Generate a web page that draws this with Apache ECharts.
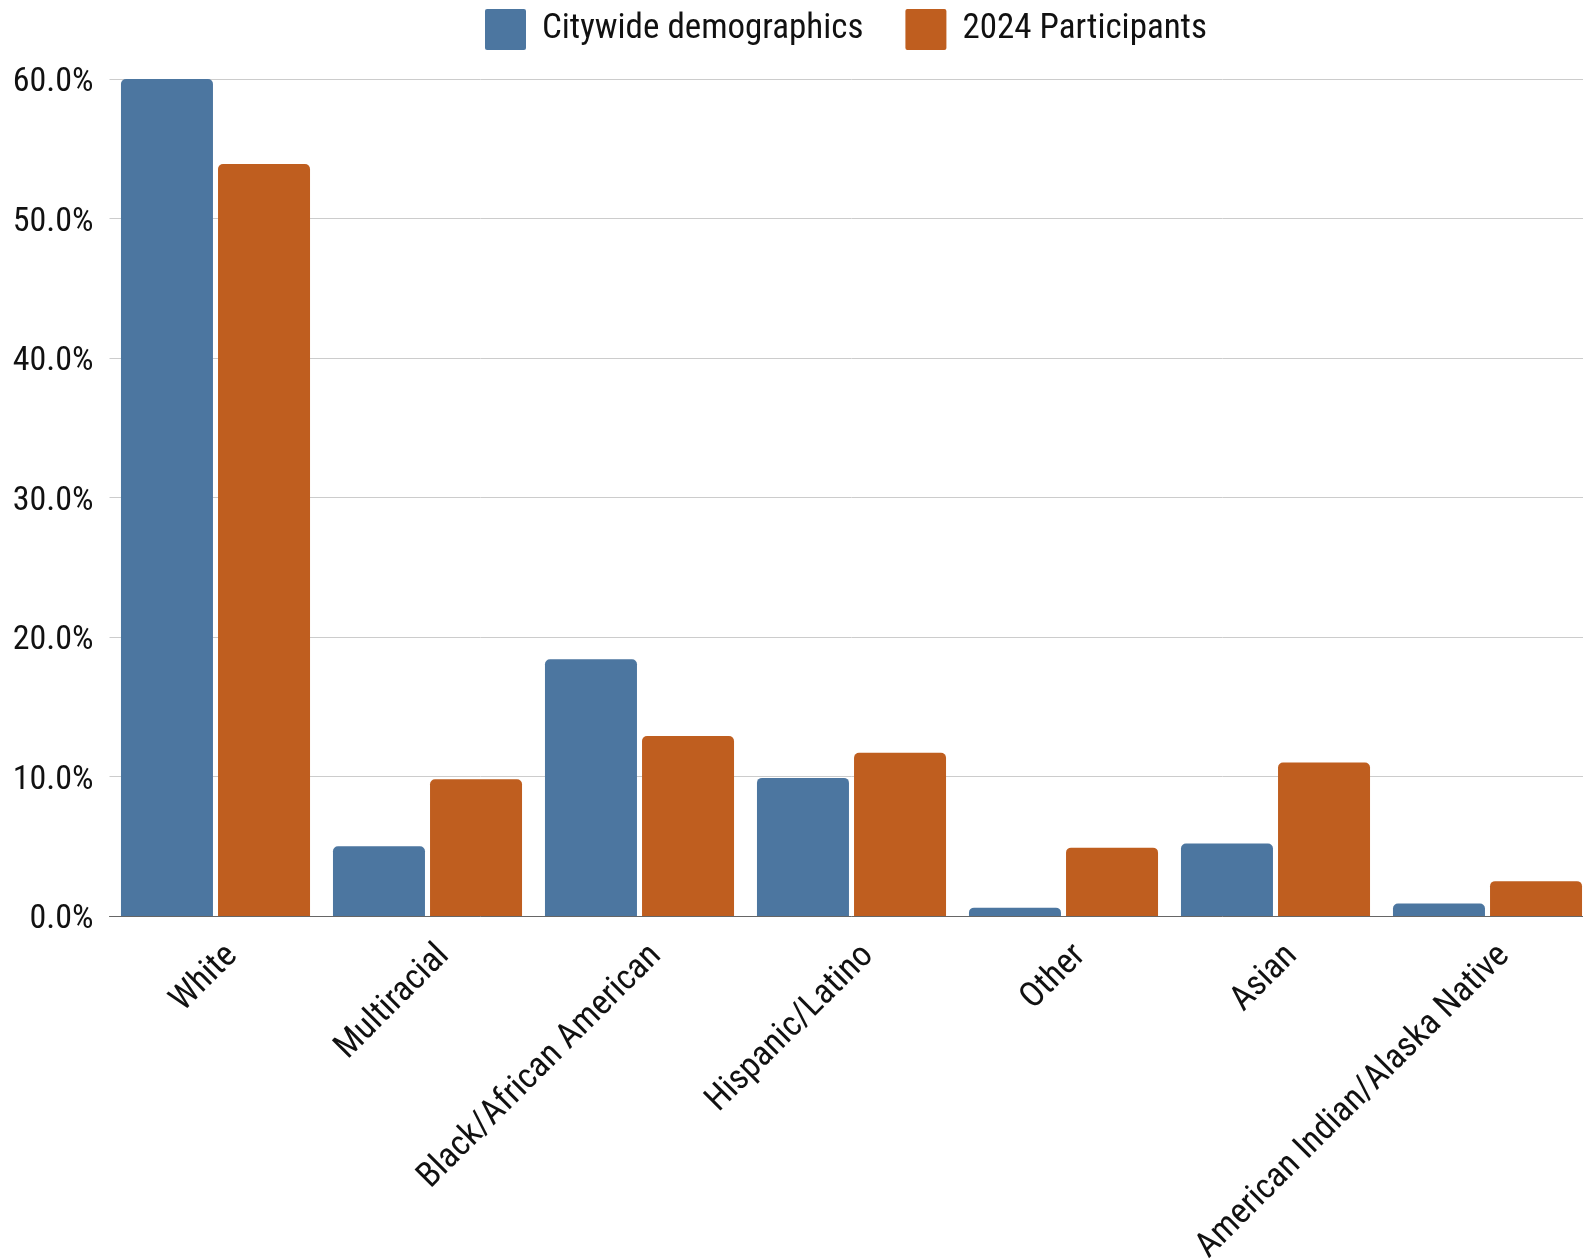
<!DOCTYPE html>
<html>
<head>
<meta charset="utf-8">
<style>
  html, body { margin: 0; padding: 0; background: #fff; overflow: hidden; }
  #chart { width: 1620px; height: 1259px; }
</style>
<script src="https://cdn.jsdelivr.net/npm/echarts@6/dist/echarts.min.js"></script>
</head>
<body>
<div id="chart"></div>
<script>
// Share of population by race/ethnicity (percent)
const categories = [
  'White',
  'Multiracial',
  'Black/African American',
  'Hispanic/Latino',
  'Other',
  'Asian',
  'American Indian/Alaska Native'
];
const citywide = [60.0, 5.0, 18.4, 9.9, 0.6, 5.2, 0.9];
const participants2024 = [53.9, 9.8, 12.9, 11.7, 4.9, 11.0, 2.5];
const seriesNames = ['Citywide demographics', '2024 Participants'];

const FONT = '"Roboto Condensed", "Liberation Sans Narrow", "Arial Narrow", Roboto, sans-serif';

const chart = echarts.init(document.getElementById('chart'), null, { renderer: 'canvas' });

chart.setOption({
  animation: false,
  backgroundColor: '#ffffff',
  color: ['#4c76a0', '#bf5e1f'],
  textStyle: { fontFamily: FONT },
  legend: {
    left: 480,
    top: 4,
    itemWidth: 41,
    itemHeight: 41,
    itemGap: 42,
    icon: 'path://M2,0 L38,0 Q40,0 40,2 L40,38 Q40,40 38,40 L2,40 Q0,40 0,38 L0,2 Q0,0 2,0 Z',
    textStyle: { fontFamily: FONT, fontSize: 35, color: '#111', padding: [0, 0, 0, 11] },
    data: seriesNames
  },
  grid: {
    left: 109.5,
    top: 79,
    width: 1484,
    height: 837,
    containLabel: false,
    outerBoundsMode: 'none'
  },
  xAxis: {
    type: 'category',
    data: categories,
    boundaryGap: true,
    axisTick: { show: false },
    axisLine: { show: true, lineStyle: { color: '#666', width: 1 } },
    axisLabel: {
      interval: 0,
      rotate: 45,
      margin: 18,
      padding: [6, 0, 0, 0],
      verticalAlign: 'top',
      fontFamily: FONT,
      fontSize: 35,
      color: '#111'
    }
  },
  yAxis: {
    type: 'value',
    min: 0,
    max: 60,
    interval: 10,
    axisLine: { show: false },
    axisTick: { show: false },
    splitLine: { lineStyle: { color: '#cccccc', width: 1 } },
    axisLabel: {
      margin: 16,
      fontFamily: FONT,
      fontSize: 34,
      color: '#111',
      formatter: v => '{v|' + v.toFixed(1) + '%}',
      rich: {
        v: { fontFamily: FONT, fontSize: 34, color: '#111', padding: [7, 0, 0, 0] }
      }
    }
  },
  series: [
    {
      name: seriesNames[0],
      type: 'bar',
      data: citywide,
      barWidth: 92,
      barGap: '5.5%',
      itemStyle: { borderRadius: [5, 5, 0, 0] }
    },
    {
      name: seriesNames[1],
      type: 'bar',
      data: participants2024,
      barWidth: 92,
      barGap: '5.5%',
      itemStyle: { borderRadius: [5, 5, 0, 0] }
    }
  ]
});
</script>
</body>
</html>
